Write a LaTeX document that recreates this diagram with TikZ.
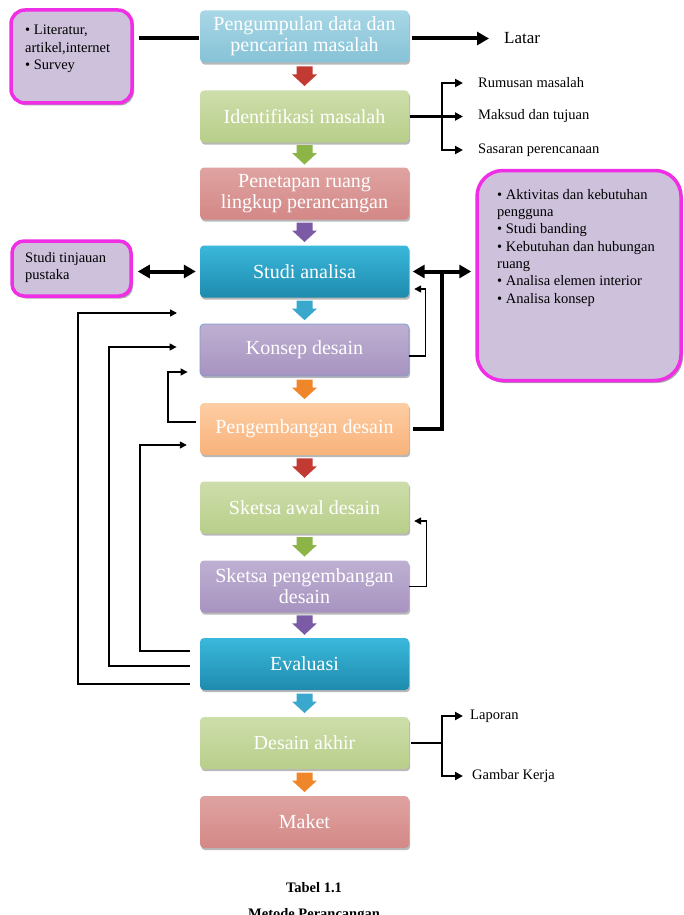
\documentclass[tikz,border=0pt]{standalone}
\usepackage{fontspec}
\setmainfont{Liberation Serif}
\usetikzlibrary{arrows.meta,shadows,calc}
\definecolor{bBlueT}{HTML}{A8D7E6}
\definecolor{bBlueB}{HTML}{86C2D6}
\definecolor{bGreenT}{HTML}{CEDEAB}
\definecolor{bGreenB}{HTML}{B8CE8A}
\definecolor{bPinkT}{HTML}{DFA3A1}
\definecolor{bPinkB}{HTML}{D38886}
\definecolor{bCyanT}{HTML}{3AB8DB}
\definecolor{bCyanB}{HTML}{1E8BAE}
\definecolor{bPurpT}{HTML}{BEB0D2}
\definecolor{bPurpB}{HTML}{A793C0}
\definecolor{bPeachT}{HTML}{FDCDA3}
\definecolor{bPeachB}{HTML}{F8B27A}
\definecolor{kBorder}{HTML}{7F9CCB}
\definecolor{aRed}{HTML}{C23A32}
\definecolor{aGreen}{HTML}{8DB447}
\definecolor{aPurple}{HTML}{7B5AA6}
\definecolor{aCyan}{HTML}{3AA7CD}
\definecolor{aOrange}{HTML}{F0862A}
\definecolor{lilac}{HTML}{CDC1DC}
\definecolor{magB}{HTML}{F02EE6}
\begin{document}
\begin{tikzpicture}[x=1pt,y=-1pt,
  stepbox/.style={rounded corners=4pt, minimum width=209pt, minimum height=52pt,
    inner sep=0pt, align=center, text=white, font=\fontsize{20}{21}\selectfont,
    drop shadow={shadow xshift=1.2pt, shadow yshift=-2.2pt, opacity=0.28, fill=black}},
  shd/.style 2 args={top color=#1, bottom color=#2},
  pinkbox/.style={draw=magB, line width=3.5pt, fill=lilac, inner sep=0pt,
    drop shadow={shadow xshift=2pt, shadow yshift=-2.5pt, opacity=0.35, fill=black}},
  sidetxt/.style={inner sep=0pt, align=left, font=\fontsize{14.5}{17.3}\selectfont},
  lbl/.style={inner sep=0pt, font=\fontsize{14.5}{17}\selectfont},
  barrow/.pic={\fill[pic actions] (-8,-10) -- (8,-10) -- (8,-2) -- (12.5,-2) -- (0,9.5) -- (-12.5,-2) -- (-8,-2) -- cycle;},
  thickline/.style={line width=4pt},
  bigtip/.style={-{Triangle[length=12pt,width=13pt]}},
  thinline/.style={line width=1.4pt, -{Triangle[length=7pt,width=7pt]}},
  midline/.style={line width=2.2pt},
  midtip/.style={-{Triangle[length=8pt,width=8pt]}}
]
\useasboundingbox (0,0) rectangle (684,915);

% main steps
\node[stepbox, shd={bBlueT}{bBlueB}] (b1) at (304.5,36.5) {Pengumpulan data dan\\pencarian masalah};
\node[stepbox, shd={bGreenT}{bGreenB}] (b2) at (304.5,116.5) {Identifikasi masalah};
\node[stepbox, shd={bPinkT}{bPinkB}] (b3) at (304.5,193.5) {Penetapan ruang\\lingkup perancangan};
\node[stepbox, shd={bCyanT}{bCyanB}] (b4) at (304.5,271.5) {Studi analisa};
\node[stepbox, shd={bPurpT}{bPurpB}, draw=kBorder, line width=0.8pt] (b5) at (304.5,350) {Konsep desain};
\node[stepbox, shd={bPeachT}{bPeachB}] (b6) at (304.5,429) {Pengembangan desain};
\node[stepbox, shd={bGreenT}{bGreenB}] (b7) at (304.5,507.5) {Sketsa awal desain};
\node[stepbox, shd={bPurpT}{bPurpB}] (b8) at (304.5,586.5) {Sketsa pengembangan\\desain};
\node[stepbox, shd={bCyanT}{bCyanB}] (b9) at (304.5,664) {Evaluasi};
\node[stepbox, shd={bGreenT}{bGreenB}] (b10) at (304.5,743) {Desain akhir};
\node[stepbox, shd={bPinkT}{bPinkB}] (b11) at (304.5,822) {Maket};

% block arrows
\path (b1.south) -- (b2.north) coordinate[pos=0.5] (m1);
\path (b2.south) -- (b3.north) coordinate[pos=0.5] (m2);
\path (b3.south) -- (b4.north) coordinate[pos=0.5] (m3);
\path (b4.south) -- (b5.north) coordinate[pos=0.5] (m4);
\path (b5.south) -- (b6.north) coordinate[pos=0.5] (m5);
\path (b6.south) -- (b7.north) coordinate[pos=0.5] (m6);
\path (b7.south) -- (b8.north) coordinate[pos=0.5] (m7);
\path (b8.south) -- (b9.north) coordinate[pos=0.5] (m8);
\path (b9.south) -- (b10.north) coordinate[pos=0.5] (m9);
\path (b10.south) -- (b11.north) coordinate[pos=0.5] (m10);
\pic[fill=aRed] at (m1) {barrow};
\pic[fill=aGreen] at (m2) {barrow};
\pic[fill=aPurple] at (m3) {barrow};
\pic[fill=aCyan] at (m4) {barrow};
\pic[fill=aOrange] at (m5) {barrow};
\pic[fill=aRed] at (m6) {barrow};
\pic[fill=aGreen] at (m7) {barrow};
\pic[fill=aPurple] at (m8) {barrow};
\pic[fill=aCyan] at (m9) {barrow};
\pic[fill=aOrange] at (m10) {barrow};

% side boxes
\node[pinkbox, rounded corners=14pt, minimum width=121pt, minimum height=93pt] (L1) at (71.5,56.5) {};
\node[sidetxt, anchor=north west] (L1t) at (25,25) {• Literatur,\\artikel,internet\\• Survey};
\node[pinkbox, rounded corners=12pt, minimum width=119pt, minimum height=55pt] (L2) at (71.5,268.5) {};
\node[sidetxt, anchor=north west] (L2t) at (25,252) {Studi tinjauan\\pustaka};
\node[pinkbox, rounded corners=26pt, minimum width=204pt, minimum height=210pt] (R) at (579,275.5) {};
\node[sidetxt, anchor=north west] (Rt) at (497,189) {• Aktivitas dan kebutuhan\\pengguna\\• Studi banding\\• Kebutuhan dan hubungan\\ruang\\• Analisa elemen interior\\• Analisa konsep};

% labels
\node[lbl, font=\fontsize{17}{19}\selectfont, anchor=west] (latar) at (504,38.5) {Latar};
\node[lbl, anchor=west] (r1) at (478,83) {Rumusan masalah};
\node[lbl, anchor=west] (r2) at (478,116.5) {Maksud dan tujuan};
\node[lbl, anchor=west] (r3) at (478,150) {Sasaran perencanaan};
\node[lbl, anchor=west] (lap) at (470,716) {Laporan};
\node[lbl, anchor=west] (gk) at (472,776) {Gambar Kerja};

% top connectors
\draw[thickline, shorten <=5pt, shorten >=1pt] ([yshift=-2pt]L1.east |- b1.west) -- ([yshift=-2pt]b1.west);
\draw[thickline, bigtip, shorten <=3pt, shorten >=15pt] ([yshift=-2pt]b1.east) -- ([yshift=-2pt]b1.east -| latar.west);

% identifikasi branches
\draw[midline, shorten <=1pt] (b2.east) -- ++(33,0) coordinate (j1);
\draw[midline, midtip] ([yshift=-1.1pt]j1) |- ([xshift=-15pt]r1.west);
\draw[midline, midtip, shorten >=15pt] (j1) -- (j1 -| r2.west);
\draw[midline, midtip] ([yshift=1.1pt]j1) |- ([xshift=-15pt]r3.west);

% desain akhir branches
\draw[midline, shorten <=2pt] (b10.east) -- ++(33,0) coordinate (j2);
\draw[midline, midtip] ([yshift=-1.1pt]j2) |- ([xshift=-7pt]lap.west);
\draw[midline, midtip] ([yshift=1.1pt]j2) |- ([xshift=-9pt]gk.west);

% studi analisa double arrows
\draw[thickline, {Triangle[length=12pt,width=13pt]}-{Triangle[length=12pt,width=13pt]}, shorten <=5pt, shorten >=4pt] (L2.east |- b4.west) -- (b4.west);
\coordinate (jr) at ($(b4.east)!0.5!(b4.east -| R.west)$);
\draw[thickline, {Triangle[length=12pt,width=13pt]}-{Triangle[length=12pt,width=13pt]}, shorten <=3.5pt, shorten >=4pt] (b4.east) -- (b4.east -| R.west);
\draw[thickline, shorten <=4pt] (b6.east) -| ([yshift=2pt]jr);

% right feedback loops
\draw[thinline, shorten >=5pt] ([yshift=-6pt]b5.east) -- ++(16,0) |- ([yshift=-17.5pt]b4.east);
\draw[thinline, shorten >=5pt] (b8.east) -- ++(17,0) |- ([yshift=-13.5pt]b7.east);

% left feedback loops
\coordinate (fb1) at (177,313);
\draw[thinline, shorten <=10pt] ([yshift=-20pt]b9.west) -- ++(-122,0) |- (fb1);
\draw[thinline, shorten <=10pt, shorten >=23pt] ([yshift=-2pt]b9.west) -- ++(-91,0) |- ([yshift=3pt]b5.west);
\draw[thinline, shorten <=10pt, shorten >=13pt] ([yshift=13pt]b9.west) -- ++(-60,0) |- ([yshift=-16pt]b6.west);
\draw[thinline, shorten <=4pt, shorten >=12pt] ([yshift=7pt]b6.west) -- ++(-32,0) |- ([yshift=-22pt]b5.west);

% caption
\node[inner sep=0pt, font=\bfseries\fontsize{14.5}{17}\selectfont, anchor=base] (cap1) at (314,892) {Tabel 1.1};
\node[inner sep=0pt, font=\bfseries\fontsize{14.5}{17}\selectfont, anchor=base] (cap2) at (314,918) {Metode Perancangan};
\end{tikzpicture}
\end{document}
